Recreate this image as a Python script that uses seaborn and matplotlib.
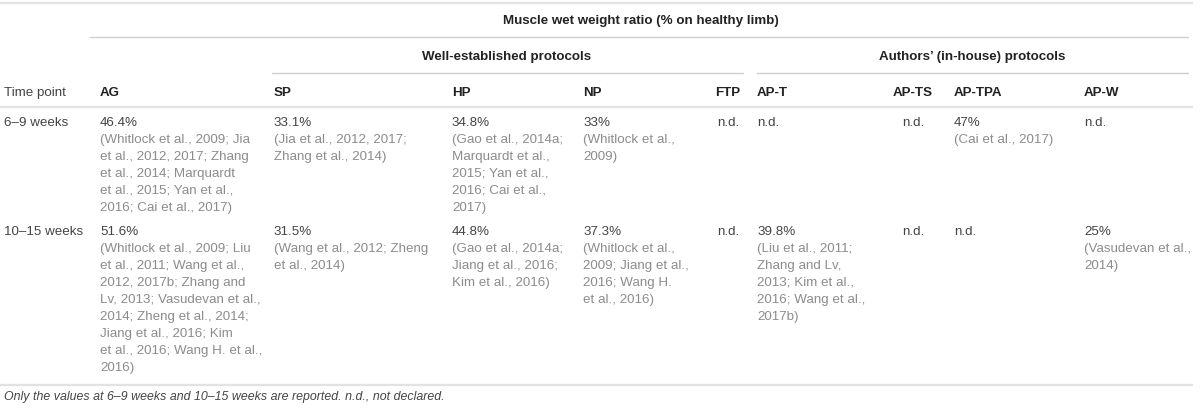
import matplotlib
matplotlib.use("Agg")
import matplotlib.pyplot as plt
import seaborn as sns

sns.set_theme(style="white")
plt.rcParams['font.family'] = ['Liberation Sans', 'DejaVu Sans']

# table content
title = "Muscle wet weight ratio (% on healthy limb)"
groups = ["Well-established protocols", "Authors\u2019 (in-house) protocols"]
row_label = "Time point"
time_points = ["6\u20139 weeks", "10\u201315 weeks"]
columns = ["AG", "SP", "HP", "NP", "FTP", "AP-T", "AP-TS", "AP-TPA", "AP-W"]
values_6_9 = ["46.4%", "33.1%", "34.8%", "33%", "n.d.", "n.d.", "n.d.", "47%", "n.d."]
values_10_15 = ["51.6%", "31.5%", "44.8%", "37.3%", "n.d.", "39.8%", "n.d.", "n.d.", "25%"]
refs_6_9 = [
    ["(Whitlock et al., 2009; Jia", "et al., 2012, 2017; Zhang", "et al., 2014; Marquardt",
     "et al., 2015; Yan et al.,", "2016; Cai et al., 2017)"],
    ["(Jia et al., 2012, 2017;", "Zhang et al., 2014)"],
    ["(Gao et al., 2014a;", "Marquardt et al.,", "2015; Yan et al.,", "2016; Cai et al.,", "2017)"],
    ["(Whitlock et al.,", "2009)"],
    [], [], [],
    ["(Cai et al., 2017)"],
    [],
]
refs_10_15 = [
    ["(Whitlock et al., 2009; Liu", "et al., 2011; Wang et al.,", "2012, 2017b; Zhang and",
     "Lv, 2013; Vasudevan et al.,", "2014; Zheng et al., 2014;", "Jiang et al., 2016; Kim",
     "et al., 2016; Wang H. et al.,", "2016)"],
    ["(Wang et al., 2012; Zheng", "et al., 2014)"],
    ["(Gao et al., 2014a;", "Jiang et al., 2016;", "Kim et al., 2016)"],
    ["(Whitlock et al.,", "2009; Jiang et al.,", "2016; Wang H.", "et al., 2016)"],
    [],
    ["(Liu et al., 2011;", "Zhang and Lv,", "2013; Kim et al.,", "2016; Wang et al.,", "2017b)"],
    [], [],
    ["(Vasudevan et al.,", "2014)"],
]
footnote = "Only the values at 6\u20139 weeks and 10\u201315 weeks are reported. n.d., not declared."

# layout (pixels)
col_x = [100, 274, 452, 583, 728, 757, 913, 954, 1084]
col_ha = ["left", "left", "left", "left", "center", "left", "center", "left", "left"]
row_y = [123, 232]
step = 17
fs = 9.6
dark = "#444444"
ref_c = "#8c8c8c"
head_c = "#222222"
rule_c = "#cfcfcf"

fig = plt.figure(figsize=(12, 4.1), dpi=100)
ax = fig.add_axes([0, 0, 1, 1])
ax.set_xlim(0, 1200)
ax.set_ylim(410, 0)
ax.axis("off")

# rules
ax.plot([0, 1192], [4, 4], color="#e2e2e2", lw=1.6)
ax.plot([90, 1188], [38, 38], color=rule_c, lw=1)
ax.plot([272, 743], [74, 74], color=rule_c, lw=1)
ax.plot([757, 1188], [74, 74], color=rule_c, lw=1)
ax.plot([0, 1192], [108, 108], color="#e2e2e2", lw=1.6)
ax.plot([0, 1192], [386, 386], color="#e2e2e2", lw=1.6)

# headings
ax.text(641, 21, title, ha="center", va="center", fontsize=fs, fontweight="bold", color=head_c)
ax.text(507, 57, groups[0], ha="center", va="center", fontsize=fs, fontweight="bold", color=head_c)
ax.text(972, 57, groups[1], ha="center", va="center", fontsize=fs, fontweight="bold", color=head_c)
ax.text(4, 93, row_label, ha="left", va="center", fontsize=fs, color=dark)
for name, x, ha in zip(columns, col_x, col_ha):
    ax.text(x, 93, name, ha=ha, va="center", fontsize=fs, fontweight="bold", color=head_c)

# body
for tp, y0, vals, refs in zip(time_points, row_y, [values_6_9, values_10_15], [refs_6_9, refs_10_15]):
    ax.text(4, y0, tp, ha="left", va="center", fontsize=fs, color=dark)
    for v, r, x, ha in zip(vals, refs, col_x, col_ha):
        ax.text(x, y0, v, ha=ha, va="center", fontsize=fs, color=dark)
        for i, line in enumerate(r):
            ax.text(x, y0 + step * (i + 1), line, ha=ha, va="center", fontsize=fs, color=ref_c)

ax.text(4, 397, footnote, ha="left", va="center", fontsize=8.9, fontstyle="italic", color=dark)

fig.savefig("out.png", dpi=100)
